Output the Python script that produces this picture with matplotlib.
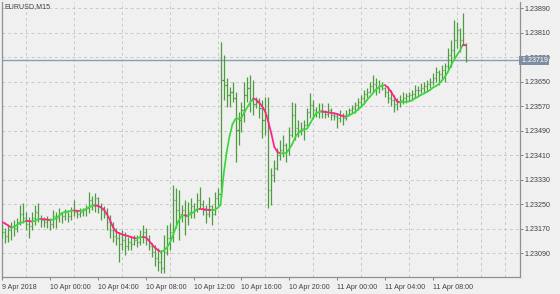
import matplotlib
matplotlib.use("Agg")
import matplotlib.pyplot as plt
from matplotlib.collections import LineCollection
import matplotlib.transforms as mtransforms

title = "EURUSD,M15"
x_label_bars = [0, 16, 32, 48, 64, 80, 96, 112, 128, 144]
x_labels = ["9 Apr 2018", "10 Apr 00:00", "10 Apr 04:00", "10 Apr 08:00", "10 Apr 12:00",
            "10 Apr 16:00", "10 Apr 20:00", "11 Apr 00:00", "11 Apr 04:00", "11 Apr 08:00"]
y_ticks = [1.23090, 1.23170, 1.23250, 1.23330, 1.23410, 1.23490, 1.23570, 1.23650,
           1.23730, 1.23810, 1.23890]
last_price = 1.23719

opens = [1.23172, 1.23159, 1.23146, 1.23165, 1.23178, 1.23172, 1.23191, 1.23217, 1.23204, 1.23185,
         1.23178, 1.23204, 1.23224, 1.23204, 1.23198, 1.23191, 1.23198, 1.23185, 1.23211, 1.23204,
         1.23217, 1.23211, 1.23224, 1.23211, 1.23230, 1.23224, 1.23217, 1.23224, 1.23230, 1.23237,
         1.23263, 1.23250, 1.23270, 1.23243, 1.23230, 1.23217, 1.23191, 1.23165, 1.23146, 1.23139,
         1.23119, 1.23132, 1.23113, 1.23126, 1.23119, 1.23132, 1.23126, 1.23146, 1.23159, 1.23132,
         1.23113, 1.23093, 1.23074, 1.23061, 1.23041, 1.23093, 1.23139, 1.23159, 1.23263, 1.23230,
         1.23217, 1.23230, 1.23211, 1.23224, 1.23243, 1.23230, 1.23263, 1.23250, 1.23230, 1.23217,
         1.23243, 1.23217, 1.23270, 1.23283, 1.23655, 1.23639, 1.23606, 1.23616, 1.23596, 1.23492,
         1.23524, 1.23557, 1.23606, 1.23629, 1.23590, 1.23577, 1.23583, 1.23563, 1.23524, 1.23540,
         1.23296, 1.23344, 1.23367, 1.23410, 1.23426, 1.23443, 1.23426, 1.23475, 1.23540, 1.23498,
         1.23492, 1.23498, 1.23508, 1.23550, 1.23573, 1.23557, 1.23550, 1.23557, 1.23550, 1.23544,
         1.23557, 1.23540, 1.23537, 1.23531, 1.23540, 1.23531, 1.23544, 1.23557, 1.23563, 1.23573,
         1.23583, 1.23596, 1.23609, 1.23616, 1.23635, 1.23642, 1.23629, 1.23635, 1.23629, 1.23616,
         1.23596, 1.23590, 1.23577, 1.23583, 1.23590, 1.23596, 1.23603, 1.23606, 1.23609, 1.23622,
         1.23622, 1.23629, 1.23635, 1.23642, 1.23648, 1.23661, 1.23681, 1.23674, 1.23688, 1.23701,
         1.23737, 1.23753, 1.23786, 1.23818, 1.23786, 1.23772]

highs = [1.23185, 1.23172, 1.23178, 1.23191, 1.23198, 1.23204, 1.23247, 1.23253, 1.23224, 1.23208,
         1.23224, 1.23247, 1.23253, 1.23214, 1.23208, 1.23211, 1.23204, 1.23230, 1.23224, 1.23237,
         1.23224, 1.23234, 1.23224, 1.23240, 1.23263, 1.23230, 1.23237, 1.23237, 1.23247, 1.23289,
         1.23276, 1.23286, 1.23273, 1.23253, 1.23243, 1.23237, 1.23214, 1.23191, 1.23172, 1.23159,
         1.23165, 1.23159, 1.23142, 1.23146, 1.23149, 1.23149, 1.23165, 1.23182, 1.23172, 1.23149,
         1.23123, 1.23116, 1.23106, 1.23100, 1.23149, 1.23182, 1.23188, 1.23312, 1.23302, 1.23296,
         1.23247, 1.23263, 1.23256, 1.23270, 1.23253, 1.23286, 1.23305, 1.23263, 1.23247, 1.23273,
         1.23247, 1.23289, 1.23302, 1.23779, 1.23737, 1.23661, 1.23632, 1.23648, 1.23616, 1.23550,
         1.23583, 1.23648, 1.23665, 1.23671, 1.23655, 1.23599, 1.23596, 1.23590, 1.23599, 1.23599,
         1.23367, 1.23394, 1.23433, 1.23459, 1.23475, 1.23449, 1.23501, 1.23583, 1.23580, 1.23524,
         1.23518, 1.23524, 1.23563, 1.23613, 1.23590, 1.23567, 1.23580, 1.23580, 1.23557, 1.23580,
         1.23563, 1.23550, 1.23547, 1.23557, 1.23547, 1.23557, 1.23563, 1.23573, 1.23583, 1.23596,
         1.23606, 1.23622, 1.23629, 1.23648, 1.23671, 1.23661, 1.23655, 1.23648, 1.23632, 1.23635,
         1.23622, 1.23606, 1.23596, 1.23606, 1.23616, 1.23613, 1.23616, 1.23622, 1.23639, 1.23635,
         1.23645, 1.23648, 1.23655, 1.23661, 1.23678, 1.23698, 1.23688, 1.23704, 1.23711, 1.23759,
         1.23786, 1.23851, 1.23844, 1.23825, 1.23874, 1.23776]

lows = [1.23139, 1.23123, 1.23126, 1.23132, 1.23146, 1.23159, 1.23182, 1.23188, 1.23165, 1.23139,
        1.23165, 1.23182, 1.23191, 1.23175, 1.23175, 1.23172, 1.23165, 1.23172, 1.23172, 1.23191,
        1.23188, 1.23198, 1.23191, 1.23198, 1.23211, 1.23204, 1.23208, 1.23211, 1.23211, 1.23221,
        1.23230, 1.23224, 1.23221, 1.23198, 1.23204, 1.23165, 1.23139, 1.23126, 1.23116, 1.23061,
        1.23100, 1.23083, 1.23100, 1.23100, 1.23116, 1.23110, 1.23116, 1.23123, 1.23116, 1.23100,
        1.23077, 1.23048, 1.23031, 1.23025, 1.23025, 1.23083, 1.23100, 1.23126, 1.23172, 1.23132,
        1.23191, 1.23149, 1.23182, 1.23204, 1.23204, 1.23224, 1.23237, 1.23214, 1.23188, 1.23208,
        1.23182, 1.23214, 1.23247, 1.23273, 1.23590, 1.23567, 1.23567, 1.23583, 1.23387, 1.23443,
        1.23485, 1.23518, 1.23583, 1.23550, 1.23540, 1.23563, 1.23531, 1.23465, 1.23475, 1.23237,
        1.23247, 1.23322, 1.23361, 1.23394, 1.23403, 1.23387, 1.23410, 1.23469, 1.23459, 1.23469,
        1.23475, 1.23459, 1.23505, 1.23531, 1.23531, 1.23534, 1.23531, 1.23531, 1.23531, 1.23534,
        1.23524, 1.23524, 1.23498, 1.23518, 1.23508, 1.23524, 1.23540, 1.23547, 1.23547, 1.23557,
        1.23567, 1.23580, 1.23596, 1.23613, 1.23616, 1.23606, 1.23613, 1.23622, 1.23599, 1.23580,
        1.23570, 1.23550, 1.23557, 1.23567, 1.23577, 1.23580, 1.23586, 1.23590, 1.23596, 1.23603,
        1.23613, 1.23616, 1.23619, 1.23629, 1.23639, 1.23648, 1.23639, 1.23655, 1.23648, 1.23688,
        1.23698, 1.23727, 1.23759, 1.23746, 1.23769, 1.23714]

closes = [1.23159, 1.23146, 1.23165, 1.23178, 1.23172, 1.23191, 1.23217, 1.23204, 1.23185, 1.23178,
          1.23204, 1.23224, 1.23204, 1.23198, 1.23191, 1.23198, 1.23185, 1.23211, 1.23204, 1.23217,
          1.23211, 1.23224, 1.23211, 1.23230, 1.23224, 1.23217, 1.23224, 1.23230, 1.23237, 1.23263,
          1.23250, 1.23270, 1.23243, 1.23230, 1.23217, 1.23191, 1.23165, 1.23146, 1.23139, 1.23119,
          1.23132, 1.23113, 1.23126, 1.23119, 1.23132, 1.23126, 1.23146, 1.23159, 1.23132, 1.23113,
          1.23093, 1.23074, 1.23061, 1.23041, 1.23093, 1.23139, 1.23159, 1.23263, 1.23230, 1.23217,
          1.23230, 1.23211, 1.23224, 1.23243, 1.23230, 1.23263, 1.23250, 1.23230, 1.23217, 1.23243,
          1.23217, 1.23270, 1.23283, 1.23655, 1.23639, 1.23606, 1.23616, 1.23596, 1.23492, 1.23524,
          1.23557, 1.23606, 1.23629, 1.23590, 1.23577, 1.23583, 1.23563, 1.23524, 1.23540, 1.23296,
          1.23344, 1.23367, 1.23410, 1.23426, 1.23443, 1.23426, 1.23475, 1.23540, 1.23498, 1.23492,
          1.23498, 1.23508, 1.23550, 1.23573, 1.23557, 1.23550, 1.23557, 1.23550, 1.23544, 1.23557,
          1.23540, 1.23537, 1.23531, 1.23540, 1.23531, 1.23544, 1.23557, 1.23563, 1.23573, 1.23583,
          1.23596, 1.23609, 1.23616, 1.23635, 1.23642, 1.23629, 1.23635, 1.23629, 1.23616, 1.23596,
          1.23590, 1.23577, 1.23583, 1.23590, 1.23596, 1.23603, 1.23606, 1.23609, 1.23622, 1.23622,
          1.23629, 1.23635, 1.23642, 1.23648, 1.23661, 1.23681, 1.23674, 1.23688, 1.23701, 1.23737,
          1.23753, 1.23786, 1.23818, 1.23786, 1.23772, 1.23719]

ma = [1.23191, 1.23186, 1.23180, 1.23173, 1.23175, 1.23182, 1.23188, 1.23191, 1.23195, 1.23194,
      1.23193, 1.23196, 1.23200, 1.23201, 1.23200, 1.23199, 1.23198, 1.23199, 1.23204, 1.23212,
      1.23221, 1.23224, 1.23226, 1.23227, 1.23229, 1.23228, 1.23227, 1.23229, 1.23234, 1.23239,
      1.23243, 1.23245, 1.23244, 1.23239, 1.23232, 1.23217, 1.23198, 1.23175, 1.23160, 1.23155,
      1.23151, 1.23148, 1.23146, 1.23142, 1.23139, 1.23138, 1.23141, 1.23142, 1.23141, 1.23131,
      1.23119, 1.23108, 1.23100, 1.23094, 1.23098, 1.23107, 1.23123, 1.23146, 1.23172, 1.23196,
      1.23211, 1.23213, 1.23212, 1.23217, 1.23224, 1.23232, 1.23234, 1.23233, 1.23232, 1.23231,
      1.23230, 1.23231, 1.23237, 1.23247, 1.23345, 1.23417, 1.23472, 1.23511, 1.23528, 1.23529,
      1.23532, 1.23550, 1.23567, 1.23583, 1.23595, 1.23590, 1.23580, 1.23568, 1.23550, 1.23518,
      1.23479, 1.23436, 1.23420, 1.23415, 1.23416, 1.23417, 1.23430, 1.23446, 1.23469, 1.23482,
      1.23488, 1.23492, 1.23497, 1.23514, 1.23531, 1.23547, 1.23550, 1.23552, 1.23551, 1.23549,
      1.23548, 1.23546, 1.23544, 1.23540, 1.23537, 1.23535, 1.23539, 1.23545, 1.23550, 1.23559,
      1.23567, 1.23577, 1.23590, 1.23601, 1.23612, 1.23624, 1.23632, 1.23637, 1.23638, 1.23630,
      1.23617, 1.23601, 1.23585, 1.23582, 1.23583, 1.23584, 1.23585, 1.23588, 1.23595, 1.23600,
      1.23606, 1.23611, 1.23616, 1.23622, 1.23630, 1.23635, 1.23642, 1.23653, 1.23665, 1.23681,
      1.23701, 1.23719, 1.23735, 1.23750, 1.23769, 1.23768]

BG = "#f0f0f0"
BAR = "#4e9c40"
UP = "#3ad83a"
DOWN = "#ff2288"
FONT = ["Liberation Sans", "DejaVu Sans"]
FS = 5.1

fig = plt.figure(figsize=(5.6, 2.94), dpi=100, facecolor=BG)
ax = fig.add_axes([2 / 560, 17 / 294, 518 / 560, 275 / 294], facecolor=BG)

n = len(closes)
xs = list(range(n))

# bars: high-low line, open tick left, close tick right
segs = []
for i in xs:
    segs.append([(i, lows[i]), (i, highs[i])])
    segs.append([(i - 0.36, opens[i]), (i, opens[i])])
    segs.append([(i, closes[i]), (i + 0.36, closes[i])])
ax.add_collection(LineCollection(segs, colors=BAR, linewidths=0.9, zorder=3))

# smoothed line coloured by slope
mseg, mcol = [], []
for i in range(n - 1):
    mseg.append([(i, ma[i]), (i + 1, ma[i + 1])])
    mcol.append(DOWN if ma[i + 1] < ma[i] else UP)
ax.add_collection(LineCollection(mseg, colors=mcol, linewidths=1.25, zorder=4,
                                 capstyle="round"))

# current price line
ax.axhline(last_price, color="#8d9db0", lw=1.0, zorder=2)

ax.set_xlim(-0.1, -0.1 + 518 / 2.99)
ax.set_ylim(1.230117, 1.239096)

ax.set_xticks(x_label_bars)
ax.set_xticklabels(x_labels, fontsize=FS, family=FONT, color="#404040")
for lbl in ax.get_xticklabels():
    lbl.set_horizontalalignment("left")
ax.set_xticks(list(range(0, 173, 8)), minor=True)

ax.yaxis.tick_right()
ax.set_yticks(y_ticks)
ax.set_yticklabels([f"{v:.5f}" for v in y_ticks], fontsize=FS, family=FONT, color="#404040")

ax.tick_params(axis="x", which="major", direction="out", length=2.5, width=0.7,
               color="#808080", pad=2.2)
ax.tick_params(axis="x", which="minor", length=0)
ax.tick_params(axis="y", direction="out", length=2.5, width=0.7, color="#808080", pad=0.8)

ax.grid(True, axis="y", which="major", linestyle=(0, (3, 3)), color="#c8c8c8", lw=0.7)
ax.grid(True, axis="x", which="minor", linestyle=(0, (3, 3)), color="#c8c8c8", lw=0.7)
ax.set_axisbelow(True)

for side in ("left", "right", "bottom"):
    ax.spines[side].set_color("#909090")
    ax.spines[side].set_linewidth(0.9)
ax.spines["top"].set_visible(False)

# current price label on the right axis (covers the 1.23730 tick label as in MT4)
trans = mtransforms.blended_transform_factory(ax.transAxes, ax.transData)
ax.text(1.0, last_price, " " + f"{last_price:.5f}", transform=trans,
        ha="left", va="center", fontsize=FS, family=FONT, color="white", zorder=10,
        clip_on=False,
        bbox=dict(boxstyle="square,pad=0.12", fc="#7f8fa3", ec="none"))

fig.text(4 / 560, 1 - 6.5 / 294, title, fontsize=FS, family=FONT, color="#404040",
         ha="left", va="center")

fig.savefig("out.png", dpi=100, facecolor=BG)
